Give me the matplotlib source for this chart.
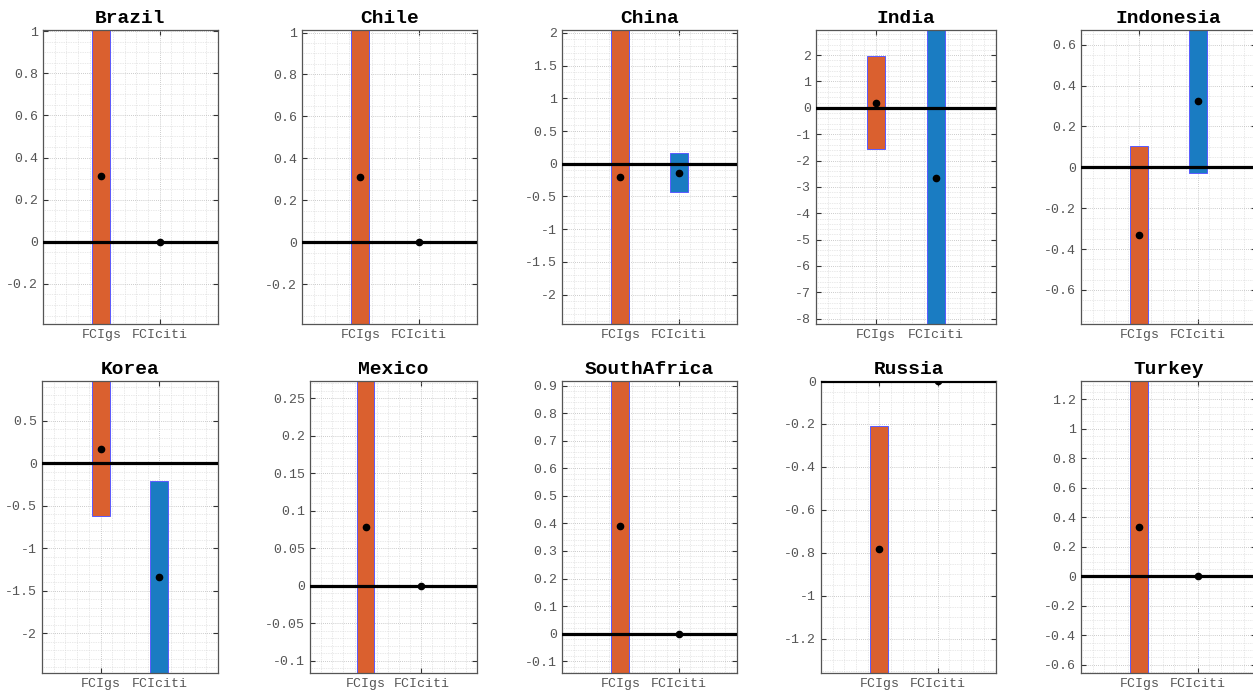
import numpy as np
import matplotlib
matplotlib.use("Agg")
import matplotlib.pyplot as plt
from matplotlib.ticker import AutoMinorLocator, MultipleLocator, FuncFormatter

plt.rcParams['font.family'] = ['Liberation Mono', 'DejaVu Sans Mono']
plt.rcParams['axes.unicode_minus'] = False

# data
countries = ['Brazil', 'Chile', 'China', 'India', 'Indonesia',
             'Korea', 'Mexico', 'SouthAfrica', 'Russia', 'Turkey']
labels = ['FCIgs', 'FCIciti']

gs_low = [-0.39, -0.39, -2.45, -1.57, -0.767, -0.624, -0.1165, -0.143, -1.359, -0.656]
gs_high = [1.005, 1.012, 2.045, 1.95, 0.102, 0.968, 0.273, 0.917, -0.208, 1.324]
gs_point = [0.31, 0.311, -0.21, 0.2, -0.333, 0.172, 0.0783, 0.389, -0.784, 0.334]

citi_low = [0, 0, -0.43, -8.2, -0.028, -2.466, 0, 0, 0, 0]
citi_high = [0, 0, 0.157, 2.95, 0.672, -0.208, 0, 0, 0, 0]
citi_point = [0, 0, -0.137, -2.65, 0.324, -1.337, 0, 0, 0, 0]

# y tick spacing used in each panel
ystep = [0.2, 0.2, 0.5, 1, 0.2, 0.5, 0.05, 0.1, 0.2, 0.2]

W, H = 1253, 693
fig = plt.figure(figsize=(W / 100, H / 100), dpi=100)

# axes boxes in pixels: left, top, right, bottom
lefts = [43, 302, 562, 816, 1081, 42, 310, 562, 821, 1081]
rights = [218, 477, 737, 996, 1256] * 2
tops = [30] * 5 + [381] * 5
bottoms = [324] * 5 + [673] * 5

orange = '#DA602F'
blue = '#1A7CC2'
edge = '#5a5aff'
txt_col = '#555555'

fmt = FuncFormatter(lambda v, p: '%g' % round(v, 6))

for i, name in enumerate(countries):
    l, r, t, b = lefts[i], rights[i], tops[i], bottoms[i]
    ax = fig.add_axes([l / W, 1 - b / H, (r - l) / W, (b - t) / H])

    lows = [gs_low[i], citi_low[i]]
    highs = [gs_high[i], citi_high[i]]
    pts = [gs_point[i], citi_point[i]]
    x = np.array([1, 2])

    ax.bar(x, np.array(highs) - np.array(lows), bottom=lows, width=0.31,
           color=[orange, blue], edgecolor=edge, linewidth=0.7, zorder=2)
    ax.axhline(0, color='black', lw=2.3, zorder=3)
    ax.plot(x, pts, 'o', color='black', ms=4.5, zorder=4)

    ymin = min(lows + pts)
    ymax = max(highs + pts)
    ax.set_xlim(0, 3)
    ax.set_ylim(ymin, ymax)
    ax.set_xticks(x)
    ax.set_xticklabels(labels)
    ax.yaxis.set_major_locator(MultipleLocator(ystep[i]))
    ax.yaxis.set_major_formatter(fmt)

    ax.yaxis.set_minor_locator(AutoMinorLocator())
    ax.xaxis.set_minor_locator(AutoMinorLocator(5))
    ax.grid(which='major', color='#bbbbbb', ls=(0, (1, 1.5)), lw=0.6, zorder=0)
    ax.grid(which='minor', color='#d4d4d4', ls=(0, (1, 1.5)), lw=0.5, zorder=0)
    ax.set_axisbelow(True)

    ax.tick_params(which='major', direction='in', length=3.5, width=0.8,
                   top=True, right=True, labelsize=9.5, labelcolor=txt_col,
                   color='#333333')
    ax.tick_params(which='minor', length=0)
    for s in ax.spines.values():
        s.set_color('#555555')
        s.set_linewidth(0.9)

    ax.set_title(name, fontsize=14, fontweight='bold', pad=5)

fig.savefig('out.png', dpi=100)
